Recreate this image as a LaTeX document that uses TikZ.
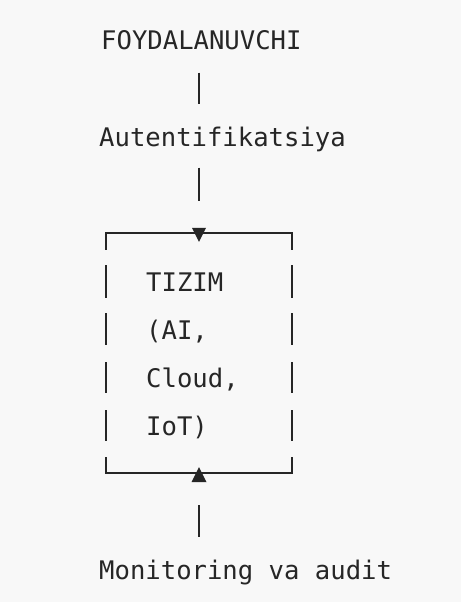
\documentclass[tikz,border=0pt]{standalone}
\usepackage{fontspec}
\newfontfamily\mono{DejaVu Sans Mono}
\definecolor{paper}{HTML}{F8F8F8}
\definecolor{ink}{HTML}{262626}
\begin{document}
\begin{tikzpicture}[x=1pt,y=1pt,
  txt/.style={anchor=base west, inner sep=0pt, text=ink, font=\mono\fontsize{25.6}{30}\selectfont},
  conn/.style={draw=ink, line width=1.7pt},
  frame/.style={draw=ink, line width=1.7pt},
  tip/.style={fill=ink, draw=none}]
  % canvas
  \fill[paper] (0,0) rectangle (461,-602);
  \useasboundingbox (0,0) rectangle (461,-602);

  % labels
  \node[txt] (user)  at (101,-50)  {FOYDALANUVCHI};
  \node[txt] (auth)  at (99,-146)  {Autentifikatsiya};
  \node[txt] (sys1)  at (146,-291) {TIZIM};
  \node[txt] (sys2)  at (146,-339) {(AI,};
  \node[txt] (sys3)  at (146,-387) {Cloud,};
  \node[txt] (sys4)  at (146,-435) {IoT)};
  \node[txt] (audit) at (99,-579)  {Monitoring va audit};

  % system frame
  \node[minimum width=186pt, minimum height=240pt, inner sep=0pt] (box) at (199,-353) {};
  \draw[frame] ([yshift=-17pt]box.north west) -- (box.north west) -- (box.north east) -- ([yshift=-17pt]box.north east);
  \draw[frame] ([yshift=16pt]box.south west) -- (box.south west) -- (box.south east) -- ([yshift=16pt]box.south east);
  \foreach \a/\b in {265/298, 313/345, 362/393, 410/441} {
    \draw[frame] (box.west |- 0,-\a) -- (box.west |- 0,-\b);
    \draw[frame] (box.east |- 0,-\a) -- (box.east |- 0,-\b);
  }

  % arrow marks on the frame
  \fill[tip] ([xshift=-7pt,yshift=5pt]box.north) -- ([xshift=7pt,yshift=5pt]box.north) -- ([yshift=-9pt]box.north) -- cycle;
  \fill[tip] ([xshift=-7.5pt,yshift=-9pt]box.south) -- ([xshift=7.5pt,yshift=-9pt]box.south) -- ([yshift=6pt]box.south) -- cycle;

  % connectors
  \draw[conn] ([yshift=-22pt]box.north |- user.south) -- ([yshift=22pt]box.north |- auth.north);
  \draw[conn] ([yshift=-16pt]box.north |- auth.south) -- ([yshift=32pt]box.north);
  \draw[conn] ([yshift=-32pt]box.south) -- ([yshift=22pt]box.south |- audit.north);
\end{tikzpicture}
\end{document}
